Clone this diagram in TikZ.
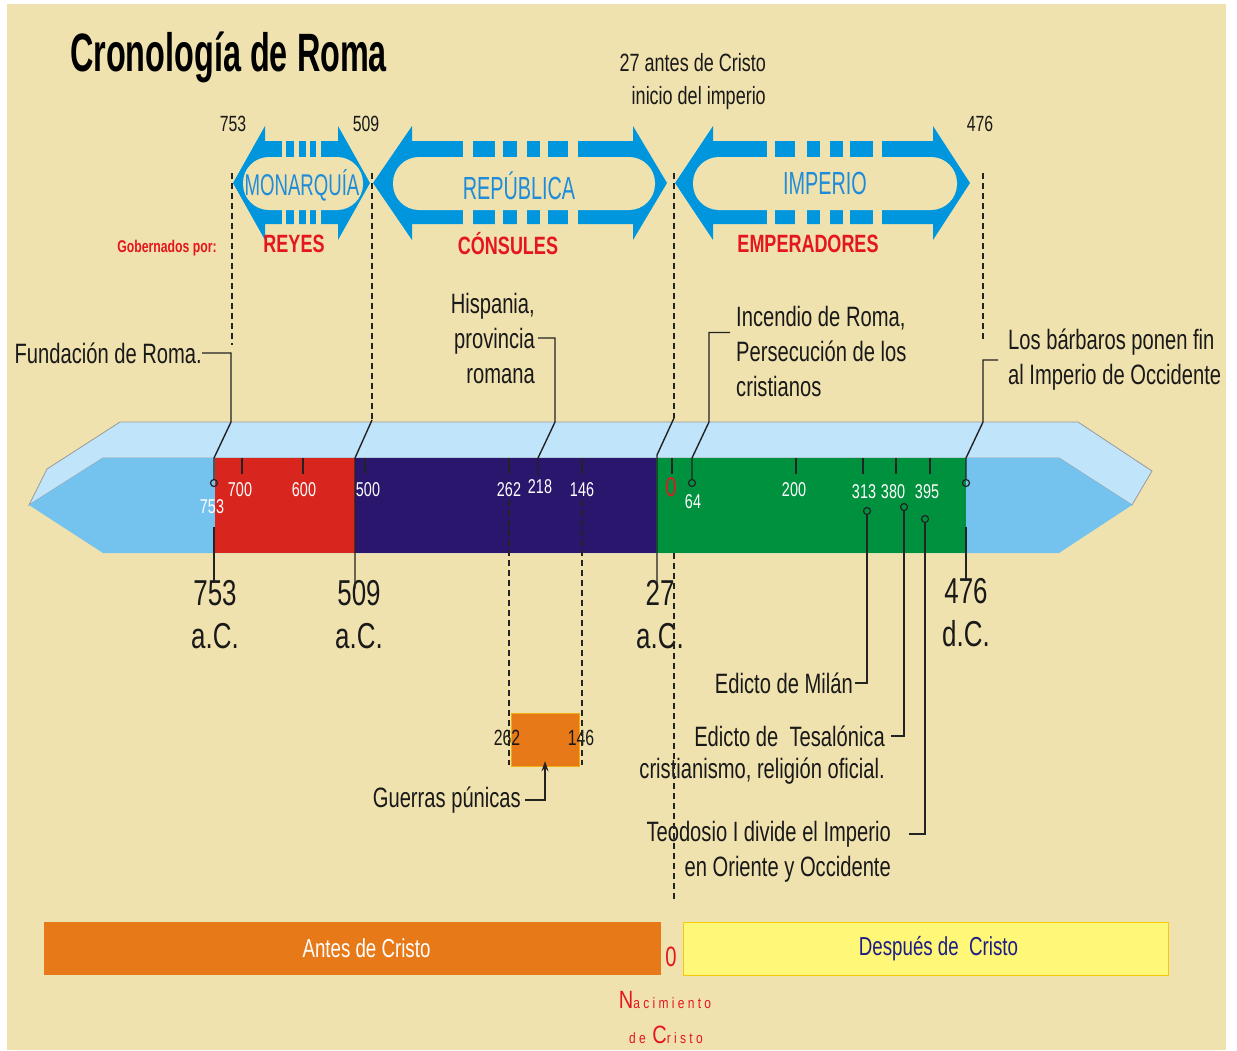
\documentclass[tikz,border=0pt]{standalone}
\usepackage{fontspec}
\setmainfont{Liberation Sans}[FakeStretch=0.72]
\newfontfamily\arrowfont{Liberation Sans}[FakeStretch=0.62]
\newfontfamily\titlefont{Liberation Sans}[FakeStretch=0.6]
\newfontfamily\nacfont{Liberation Sans}[FakeStretch=0.8]
\usetikzlibrary{arrows.meta}

\definecolor{fondo}{RGB}{240,226,174}
\definecolor{azulflecha}{RGB}{0,150,222}
\definecolor{textoazul}{RGB}{30,140,218}
\definecolor{rojo}{RGB}{228,22,30}
\definecolor{caraarriba}{RGB}{192,228,250}
\definecolor{carafrente}{RGB}{116,195,238}
\definecolor{monarquia}{RGB}{216,38,30}
\definecolor{republica}{RGB}{42,22,108}
\definecolor{imperio}{RGB}{0,145,62}
\definecolor{naranja}{RGB}{232,121,24}
\definecolor{amarillo}{RGB}{255,247,120}
\definecolor{azuloscuro}{RGB}{30,30,130}
\definecolor{linea}{RGB}{35,35,35}

% double block arrow: left tip, left base, right base, right tip, inner left, inner right
\newcommand{\flechadoble}[6]{%
  \fill[azulflecha] (#1,183) -- (#2,126) -- (#2,141) -- (#3,141) -- (#3,126) -- (#4,183)
    -- (#3,240) -- (#3,224) -- (#2,224) -- (#2,240) -- cycle;
  \fill[fondo, rounded corners=26pt] (#5,157) rectangle (#6,210);
}

\begin{document}
\begin{tikzpicture}[x=1pt,y=-1pt,
  texto/.style={font=\fontsize{28}{35}\selectfont, text=black!90, inner sep=0pt},
  anio/.style={font=\fontsize{22}{22}\selectfont, text=black!90, inner sep=0pt},
  fecha/.style={font=\fontsize{36}{43}\selectfont, text=black!90, align=center, inner sep=0pt},
  barra/.style={font=\fontsize{20}{20}\selectfont, text=white, inner sep=0pt},
  periodo/.style={font=\arrowfont\fontsize{32}{32}\selectfont, text=textoazul, inner sep=0pt},
  gobierno/.style={font=\bfseries\fontsize{25}{25}\selectfont, text=rojo, inner sep=0pt},
  marca/.style={circle, draw=linea, line width=1.2pt, inner sep=0pt, minimum size=7pt},
  enlace/.style={draw=linea, line width=1.4pt},
  guion/.style={draw=linea, line width=1.1pt, dash pattern=on 6pt off 4pt},
  franja/.style={minimum height=53pt, inner sep=0pt, font=\fontsize{26}{26}\selectfont}]
\useasboundingbox (0,0) rectangle (1237,1050);
\fill[fondo] (7,4) rectangle (1226,1050);

% title
\draw (70,57) node[anchor=west, inner sep=0pt, font=\titlefont\bfseries\fontsize{54}{54}\selectfont] (titulo) {Cronología de Roma};

% period arrows
\flechadoble{233}{265}{338}{370}{243}{363}
\flechadoble{373}{412}{633}{667}{393}{655}
\flechadoble{675}{713}{933}{970}{693}{957}
\foreach \a/\b in {282/286,294/299,306/310,316/321,463/473,495/503,517/527,540/548,568/578,767/775,795/807,820/830,843/850,873/882}{
  \fill[fondo] (\a,139) rectangle (\b,158);
  \fill[fondo] (\a,209) rectangle (\b,226);
}
\draw (302,185) node[periodo, font=\arrowfont\fontsize{30}{30}\selectfont] (monarquia) {MONARQUÍA};
\draw (519,186) node[periodo] (republica) {REPÚBLICA};
\draw (825,183) node[periodo] (imperio) {IMPERIO};
\draw (294,244) node[gobierno] (reyes) {REYES};
\draw (508,244) node[gobierno] (consules) {CÓNSULES};
\draw (808,244) node[gobierno] (emperadores) {EMPERADORES};
\draw (167,248) node[gobierno, font=\bfseries\fontsize{17}{17}\selectfont] (gobernados) {Gobernados por:};

% upper dates
\draw (233,124) node[anio] (a753) {753};
\draw (366,124) node[anio] (a509) {509};
\draw (980,124) node[anio] (a476) {476};
\draw (766,82) node[texto, anchor=east, align=right, font=\fontsize{25}{33}\selectfont] (inicio) {27 antes de Cristo\\inicio del imperio};

% timeline bar
\fill[caraarriba, draw=gray!80, line width=0.8pt] (29,505) -- (47,469) -- (120,422) -- (1078,422) -- (1152,471) -- (1132,505) -- (1059,458) -- (103,458) -- cycle;
\fill[carafrente] (29,505) -- (103,458) -- (1059,458) -- (1132,505) -- (1059,553) -- (103,553) -- cycle;
\fill[monarquia] (215,458) rectangle (355,553);
\fill[republica] (355,458) rectangle (656,553);
\fill[imperio] (656,458) rectangle (966,553);
\foreach \x in {242,303,365,509,582,672,796,863,896,930}
  \draw[linea, line width=1.3pt] (\x,458) -- (\x,474);

\draw (240,490) node[barra] (l700) {700};
\draw (304,490) node[barra] (l600) {600};
\draw (368,490) node[barra] (l500) {500};
\draw (509,490) node[barra] (l262) {262};
\draw (540,487) node[barra] (l218) {218};
\draw (582,490) node[barra] (l146) {146};
\draw (693,502) node[barra] (l64) {64};
\draw (794,490) node[barra] (l200) {200};
\draw (864,492) node[barra] (l313) {313};
\draw (893,492) node[barra] (l380) {380};
\draw (927,492) node[barra] (l395) {395};
\draw (212,507) node[barra] (l753) {753};
\draw (671,487) node[barra, text=rojo, font=\fontsize{27}{27}\selectfont] (l0) {0};

% markers
\node[marca] (m753) at (214,483) {};
\node[marca] (m64) at (692,483) {};
\node[marca] (m476) at (966,483) {};
\node[marca] (m313) at (867,511) {};
\node[marca] (m380) at (904,507) {};
\node[marca] (m395) at (925,519) {};

% lower dates
\draw (215,615) node[fecha] (b753) {753\\a.C.};
\draw (359,615) node[fecha] (b509) {509\\a.C.};
\draw (660,615) node[fecha] (b27) {27\\a.C.};
\draw (966,613) node[fecha] (b476) {476\\d.C.};

% event texts
\draw (202,353) node[texto, anchor=east] (fundacion) {Fundación de Roma.};
\draw (535,338) node[texto, anchor=east, align=right] (hispania) {Hispania,\\provincia\\romana};
\draw (736,351) node[texto, anchor=west, align=left] (incendio) {Incendio de Roma,\\Persecución de los\\cristianos};
\draw (1008,360) node[texto, anchor=west, align=left] (barbaros) {Los bárbaros ponen fin\\al Imperio de Occidente};
\draw (853,683) node[texto, anchor=east] (milan) {Edicto de Milán};
\draw (885,736) node[texto, anchor=east] (tesalonica) {Edicto de\ \ Tesalónica};
\draw (885,771) node[texto, anchor=east] (cristianismo) {cristianismo, religión oficial.};
\draw (891,834) node[texto, anchor=east] (teodosio) {Teodosio I divide el Imperio};
\draw (891,869) node[texto, anchor=east] (oriente) {en Oriente y Occidente};
\draw (521,800) node[texto, anchor=east] (guerras) {Guerras púnicas};

% punic wars box
\node[fill=naranja, draw=naranja!60!yellow, minimum width=68pt, minimum height=53pt, inner sep=0pt] (punicas) at (545,739.5) {};
\draw (507,738) node[texto, font=\fontsize{22}{22}\selectfont] (p262) {262};
\draw (581,738) node[texto, font=\fontsize{22}{22}\selectfont] (p146) {146};

% bend points
\coordinate (s753) at (232,173);
\coordinate (f753) at (232,345);
\coordinate (c753a) at (231,422);
\coordinate (c753b) at (214,458);
\coordinate (k753) at (214,527);
\coordinate (s509) at (372,173);
\coordinate (c509a) at (372,420);
\coordinate (c509b) at (355,458);
\coordinate (s27) at (674,173);
\coordinate (c27a) at (674,418);
\coordinate (c27b) at (657,455);
\coordinate (s476) at (983,173);
\coordinate (f476) at (983,340);
\coordinate (c476a) at (983,422);
\coordinate (c476b) at (966,458);
\coordinate (k476) at (966,527);
\coordinate (h218a) at (555,422);
\coordinate (h218b) at (538,458);
\coordinate (h218c) at (538,476);
\coordinate (c64a) at (709,422);
\coordinate (c64b) at (692,458);
\coordinate (s0) at (674,553);
\coordinate (f0) at (674,900);
\coordinate (s262) at (509,500);
\coordinate (f262) at (509,765);
\coordinate (s146) at (582,500);
\coordinate (f146) at (582,765);

% dashed guides
\draw[guion] (s753) -- (f753);
\draw[guion] (s509) -- (c509a);
\draw[guion] (s27) -- (c27a);
\draw[guion] (s476) -- (f476);
\draw[guion] (s0) -- (f0);
\draw[guion] (s262) -- (f262);
\draw[guion] (s146) -- (f146);

% callouts
\draw[enlace] (fundacion.east) -| (c753a) -- (c753b) -- (m753);
\draw[enlace] (k753) -- (k753 |- b753.north);
\draw[enlace] (c509a) -- (c509b) -- ([yshift=-8pt]c509b |- b509.north);
\draw[enlace] (c27a) -- (c27b) -- ([yshift=-8pt]c27b |- b27.north);
\draw[enlace] ([xshift=3pt]hispania.east) -| (h218a) -- (h218b) -- (h218c);
\draw[enlace] ([xshift=-6pt,yshift=-27pt]incendio.north west) -| (c64a) -- (c64b) -- (m64);
\draw[enlace] ([xshift=-10pt]barbaros.west) -| (c476a) -- (c476b) -- (m476);
\draw[enlace] (k476) -- (k476 |- b476.north);
\draw[enlace] ([xshift=2pt]milan.east) -| (m313);
\draw[enlace] ([xshift=6pt]tesalonica.east) -| (m380);
\draw[enlace] ([xshift=18pt]teodosio.east) -| (m395);
\draw[enlace, -{Stealth[length=10pt, width=7pt]}] ([xshift=4pt]guerras.east) -| ([yshift=5pt]punicas.south);

% before / after Christ
\node[franja, fill=naranja, minimum width=617pt, text=white] (antes) at (352.5,948.5) {\hspace*{28pt}Antes de Cristo};
\node[franja, fill=amarillo, draw=naranja!40!yellow, minimum width=485pt, text=azuloscuro] (despues) at (925.5,948.5) {\hspace*{26pt}Después de\ \ Cristo};
\draw (671,957) node[texto, text=rojo] (cero) {0};
\draw (665,1000) node[inner sep=0pt, text=rojo, font=\nacfont\fontsize{25}{25}\selectfont] (nacimiento) {N{\fontsize{15}{15}\selectfont\addfontfeature{LetterSpace=22}acimiento}};
\draw (666,1035) node[inner sep=0pt, text=rojo, font=\nacfont\fontsize{25}{25}\selectfont] (decristo) {{\fontsize{15}{15}\selectfont\addfontfeature{LetterSpace=22}de }C{\fontsize{15}{15}\selectfont\addfontfeature{LetterSpace=22}risto}};
\end{tikzpicture}
\end{document}
